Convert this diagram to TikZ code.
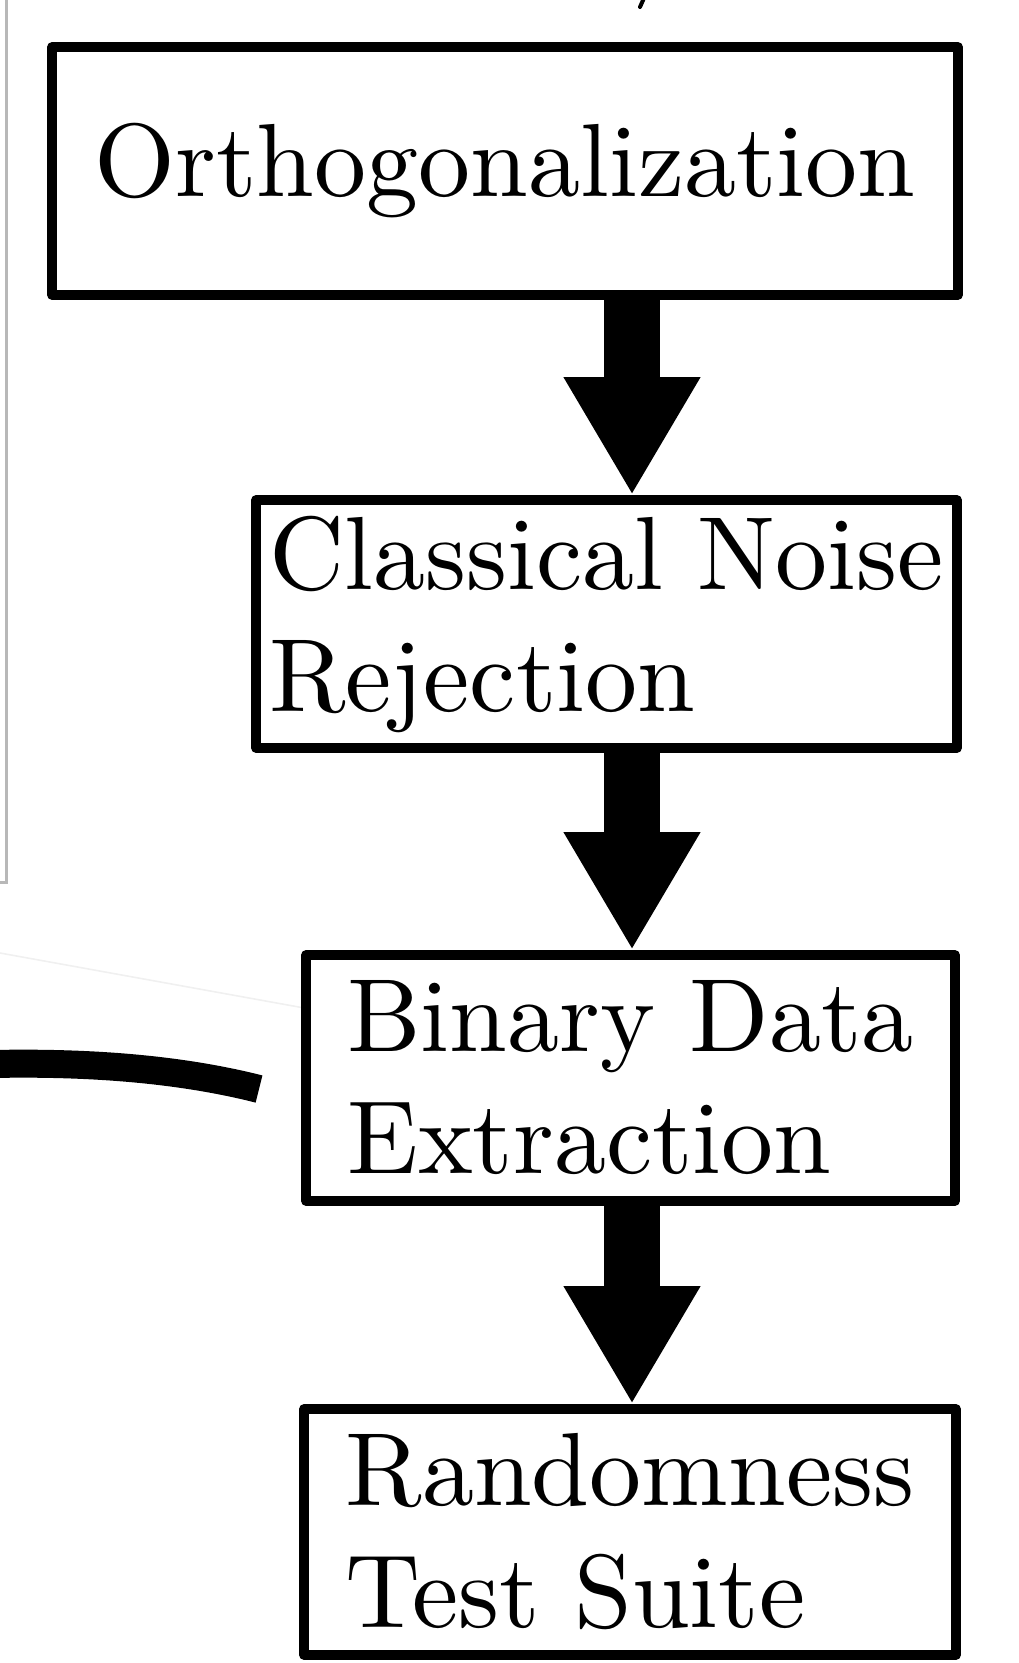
\documentclass[tikz,border=0pt]{standalone}
\usepackage{fontspec}
\usetikzlibrary{arrows.meta, positioning}
\newfontfamily\stagefont{lmroman10-regular}[Extension=.otf]
\definecolor{framegray}{gray}{0.72}
\definecolor{ghostgray}{gray}{0.94}

\begin{document}
\begin{tikzpicture}[x=0.5pt, y=-0.5pt,
    stage/.style={draw, fill=white, line width=4.8pt, line join=round, align=left,
      inner sep=0pt, font=\stagefont\fontsize{52}{61}\selectfont},
    flow/.style={line width=28pt, -{Triangle[width=64pt, length=59pt]}}]
  \useasboundingbox (0,0) rectangle (1018,1663);

  % window edge on the left and stray strokes
  \draw[framegray, line width=1.5pt] (6,-4) -- (6,882) -- (-4,882);
  \draw[ghostgray, line width=0.8pt] (0,953) -- (332,1013);
  \draw[line width=2pt, line cap=round] (644,-2) -- (640,7);

  % processing chain
  \node[stage, minimum width=453pt, minimum height=124pt] (ortho) at (505,171) {Orthogonalization};
  \node[stage, minimum width=350.5pt, minimum height=124pt] (noise) at (606.5,624) {Classical Noise\\Rejection};
  \node[stage, minimum width=324.5pt, minimum height=123pt] (binary) at (630.5,1078) {Binary Data\\Extraction};
  \node[stage, minimum width=326pt, minimum height=123pt] (suite) at (630,1532) {Randomness\\Test Suite};

  \coordinate (spine) at (632,0);
  \foreach \a/\b in {ortho/noise, noise/binary, binary/suite}
    \draw[flow] (\a.south -| spine) -- (\b.north -| spine);

  % incoming lead
  \coordinate (lead) at (-8,1064);
  \coordinate (leadend) at (259,1089);
  \draw[line width=14pt] (lead) .. controls (90,1062) and (180,1069) .. (leadend);
\end{tikzpicture}
\end{document}
